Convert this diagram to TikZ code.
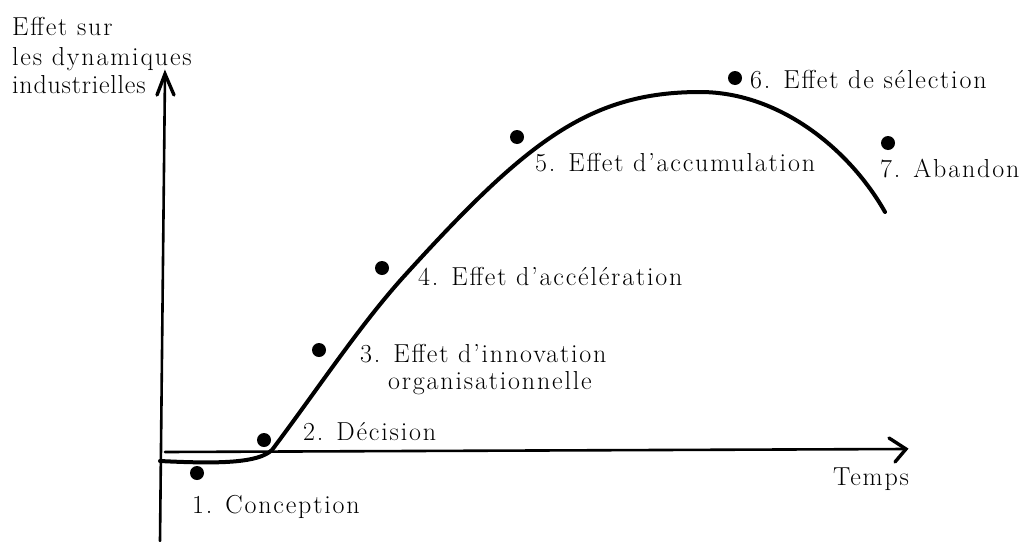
\documentclass[tikz,border=0pt]{standalone}
\usepackage{fontspec}
\setmainfont{Latin Modern Roman}[LetterSpace=7]
\usetikzlibrary{arrows.meta}
\begin{document}
\begin{tikzpicture}[x=1pt,y=-1pt,
  lbl/.style={anchor=base west,inner sep=0pt,font=\fontsize{26}{29}\selectfont},
  dot/.style={circle,fill=black,inner sep=0pt,minimum size=14pt},
  axis/.style={line width=2.6pt,line cap=round},
  curveline/.style={line width=4pt,line cap=round,line join=round},
  chev/.style={line width=3.4pt,line cap=round,line join=miter}]
\useasboundingbox (0,0) rectangle (1022,541);
% axes
\coordinate (ybot) at (160,541);
\coordinate (ytop) at (165,74);
\coordinate (yl) at (157,95);
\coordinate (yr) at (174,95);
\coordinate (xl) at (165,452);
\coordinate (xr) at (906,449);
\coordinate (xa) at (889,438);
\coordinate (xb) at (895,462);
\draw[axis] (ybot) -- (ytop);
\draw[chev] (yl) -- (ytop) -- (yr);
\draw[axis] (xl) -- (xr);
\draw[chev] (xa) -- (xr) -- (xb);
% curve
\coordinate (c0) at (160,461);
\coordinate (c1) at (272,450);
\coordinate (c2) at (407,273);
\coordinate (c3) at (700,92);
\coordinate (c4) at (885,212);
\draw[curveline] (c0) .. controls (220,464) and (258,463) .. (c1)
  .. controls (320,386) and (362,322) .. (c2)
  .. controls (527,141) and (590,92) .. (c3)
  .. controls (780,92) and (850,150) .. (c4);
% dots
\node[dot] (d1) at (197,473) {};
\node[dot] (d2) at (264,440) {};
\node[dot] (d3) at (319,350) {};
\node[dot] (d4) at (382,268) {};
\node[dot] (d5) at (517,137) {};
\node[dot] (d6) at (735,78) {};
\node[dot] (d7) at (888,143) {};
% labels
\node[lbl] (ya) at (12,35) {Effet sur};
\node[lbl] (yb) at (12,65) {les dynamiques};
\node[lbl,font=\fontsize{26}{29}\selectfont\addfontfeatures{LetterSpace=3}] (yc) at (12,93) {industrielles};
\node[lbl] (l6) at (750,88) {6. Effet de sélection};
\node[lbl] (l5) at (535,171) {5. Effet d’accumulation};
\node[lbl] (l7) at (880,177) {7. Abandon};
\node[lbl] (l4) at (418,285) {4. Effet d’accélération};
\node[lbl] (l3) at (360,362) {3. Effet d’innovation};
\node[lbl] (l3b) at (388,389) {organisationnelle};
\node[lbl] (l2) at (303,440) {2. Décision};
\node[lbl] (l1) at (192,513) {1. Conception};
\node[lbl] (lt) at (833,485) {Temps};
\end{tikzpicture}
\end{document}
